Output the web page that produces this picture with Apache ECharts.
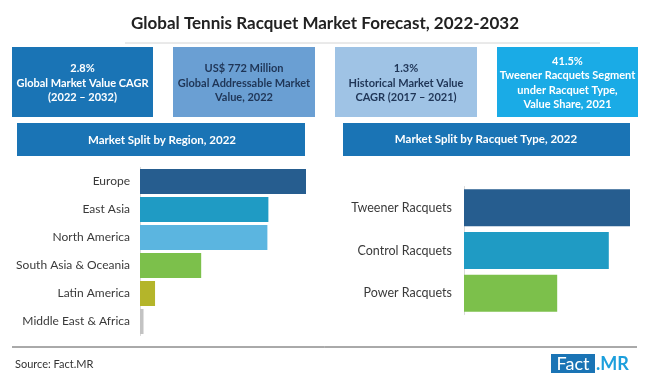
<!DOCTYPE html>
<html>
<head>
<meta charset="utf-8">
<script src="https://cdn.jsdelivr.net/npm/echarts@6/dist/echarts.min.js"></script>
<style>html,body{margin:0;padding:0;background:#fff}#c{width:650px;height:385px}</style>
</head>
<body>
<div id="c"></div>
<script>
var regions = ['Europe', 'East Asia', 'North America', 'South Asia & Oceania', 'Latin America', 'Middle East & Africa'];
var regionShare = [33.1, 25.6, 25.4, 12.2, 3.0, 0.7];
var regionColors = ['#265d8f', '#1f9bc4', '#5bb5e0', '#7cc04b', '#b4b52a', '#c3c3c3'];
var racquetTypes = ['Tweener Racquets', 'Control Racquets', 'Power Racquets'];
var racquetShare = [41.5, 36.2, 23.3];
var racquetColors = ['#265d8f', '#1f9bc4', '#7cc04b'];
var kpiTexts = [
  '2.8%\nGlobal Market Value CAGR\n(2022 \u2013 2032)',
  'US$ 772 Million\nGlobal Addressable Market\nValue, 2022',
  '1.3%\nHistorical Market Value\nCAGR (2017 \u2013 2021)',
  '41.5%\nTweener Racquets Segment\nunder Racquet Type,\nValue Share, 2021'
];
var titleText = 'Global Tennis Racquet Market Forecast, 2022-2032';
var regionHeader = 'Market Split by Region, 2022';
var racquetHeader = 'Market Split by Racquet Type, 2022';
var sourceText = 'Source: Fact.MR';

var F = 'Lato, "Open Sans", sans-serif';
var chart = echarts.init(document.getElementById('c'), null, {renderer: 'canvas'});

var boxes = [
  {x: 12, w: 141, fill: '#1a74b5', color: '#ffffff'},
  {x: 173, w: 142, fill: '#6a9fd3', color: '#1f3556'},
  {x: 335, w: 142, fill: '#9fc3e5', color: '#1f3556'},
  {x: 497, w: 141, fill: '#1aabe6', color: '#ffffff'}
];
var graphics = [];
graphics.push({type: 'line', shape: {x1: 125, y1: 43, x2: 600, y2: 43}, style: {stroke: '#d4d4d4', lineWidth: 1}});
boxes.forEach(function (b, i) {
  graphics.push({type: 'rect', shape: {x: b.x, y: 47, width: b.w, height: 70}, style: {fill: b.fill}});
  graphics.push({type: 'text', x: b.x + b.w / 2, y: 83, style: {
    text: kpiTexts[i], fill: b.color, font: 'bold 11px ' + F, align: 'center', verticalAlign: 'middle', lineHeight: 14.5}});
});
graphics.push({type: 'rect', shape: {x: 17, y: 123, width: 288, height: 33}, style: {fill: '#1a74b5'}});
graphics.push({type: 'text', x: 162, y: 140, style: {text: regionHeader, fill: '#fff', font: 'bold 11.5px ' + F, align: 'center', verticalAlign: 'middle'}});
graphics.push({type: 'rect', shape: {x: 343, y: 123, width: 287, height: 33}, style: {fill: '#1a74b5'}});
graphics.push({type: 'text', x: 486, y: 139, style: {text: racquetHeader, fill: '#fff', font: 'bold 11.5px ' + F, align: 'center', verticalAlign: 'middle'}});
graphics.push({type: 'line', shape: {x1: 12, y1: 347, x2: 637, y2: 347}, style: {stroke: '#555', lineWidth: 1}});
graphics.push({type: 'text', x: 15, y: 364, style: {text: sourceText, fill: '#333', font: '11px ' + F, align: 'left', verticalAlign: 'middle'}});
graphics.push({type: 'rect', shape: {x: 551, y: 354, width: 44, height: 19}, style: {fill: '#1a74b5'}});
graphics.push({type: 'text', x: 573, y: 364, style: {text: 'Fact', fill: '#fff', font: '18px ' + F, align: 'center', verticalAlign: 'middle'}});
graphics.push({type: 'text', x: 596, y: 364, style: {text: '.MR', fill: '#1c9fdc', font: 'bold 18px ' + F, align: 'left', verticalAlign: 'middle'}});

chart.setOption({
  animation: false,
  title: {text: titleText, left: 'center', top: 10, textStyle: {fontFamily: F, fontWeight: 'bold', fontSize: 17, color: '#222'}},
  graphic: graphics,
  grid: [
    {left: 140, top: 167.5, width: 166, height: 168},
    {left: 464, top: 186.5, width: 166, height: 128}
  ],
  xAxis: [
    {gridIndex: 0, type: 'value', min: 0, max: 'dataMax', show: false},
    {gridIndex: 1, type: 'value', min: 0, max: 'dataMax', show: false}
  ],
  yAxis: [
    {gridIndex: 0, type: 'category', data: regions, inverse: true,
     axisLine: {lineStyle: {color: '#d9d9d9'}}, axisTick: {show: false},
     axisLabel: {fontFamily: F, fontSize: 12, color: '#3a3a3a', margin: 10}},
    {gridIndex: 1, type: 'category', data: racquetTypes, inverse: true,
     axisLine: {lineStyle: {color: '#d9d9d9'}}, axisTick: {show: false},
     axisLabel: {fontFamily: F, fontSize: 12.5, color: '#3a3a3a', margin: 12}}
  ],
  series: [
    {type: 'bar', xAxisIndex: 0, yAxisIndex: 0, barWidth: 25,
     data: regionShare.map(function (v, i) { return {value: v, itemStyle: {color: regionColors[i]}}; })},
    {type: 'bar', xAxisIndex: 1, yAxisIndex: 1, barWidth: 37,
     data: racquetShare.map(function (v, i) { return {value: v, itemStyle: {color: racquetColors[i]}}; })}
  ]
});
</script>
</body>
</html>
